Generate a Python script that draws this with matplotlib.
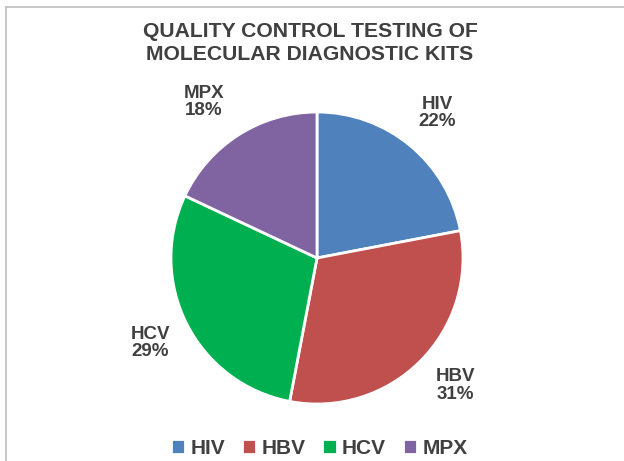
import numpy as np
import matplotlib.pyplot as plt
from matplotlib.lines import Line2D

plt.rcParams['font.family'] = ['Liberation Sans', 'DejaVu Sans']

labels = ['HIV', 'HBV', 'HCV', 'MPX']
shares = [22, 31, 29, 18]
colors = ['#4F81BD', '#C0504D', '#00B050', '#8064A2']
label_dist = [1.29, 1.29, 1.28, 1.32]
label_shift = [0, 2.4, 0, 3.6]   # degrees, nudges like Excel's best-fit
text_col = '#404040'

fig = plt.figure(figsize=(6.24, 4.61), dpi=100)

# border (only top and left visible in the reference crop)
fig.add_artist(Line2D([6/624, 1], [1 - 7/461, 1 - 7/461], color='#BFBFBF', lw=1.2))
fig.add_artist(Line2D([6/624, 6/624], [0, 1 - 7/461], color='#BFBFBF', lw=1.2))

cx, cy, r = 317, 258, 146
ax = fig.add_axes([(cx - r)/624, (461 - cy - r)/461, 2*r/624, 2*r/461])
wedges, _ = ax.pie(shares, colors=colors, startangle=90, counterclock=False,
                   wedgeprops=dict(edgecolor='white', linewidth=2))
ax.set_xlim(-1, 1)
ax.set_ylim(-1, 1)
ax.set_aspect('equal')

# data labels
total = sum(shares)
start = 90.0
for lab, val, d, s in zip(labels, shares, label_dist, label_shift):
    mid = start - val / total * 360 / 2 + s
    start -= val / total * 360
    a = np.deg2rad(mid)
    ax.text(d * np.cos(a), d * np.sin(a), f'{lab}\n{val}%', ha='center', va='center',
            fontsize=13.5, fontweight='bold', color=text_col, linespacing=1.05)

fig.text(310/624, 1 - 43/461, 'QUALITY CONTROL TESTING OF\nMOLECULAR DIAGNOSTIC KITS',
         ha='center', va='center', fontsize=15.2, fontweight='bold', color=text_col,
         linespacing=1.25)

leg = fig.legend(wedges, labels, loc='center', bbox_to_anchor=(319/624, 1 - 448/461),
                 ncol=4, frameon=False, handlelength=0.7, handleheight=0.7,
                 handletextpad=0.25, columnspacing=0.8,
                 prop=dict(size=15, weight='bold'))
for t in leg.get_texts():
    t.set_color(text_col)

fig.savefig('out.png', dpi=100)
